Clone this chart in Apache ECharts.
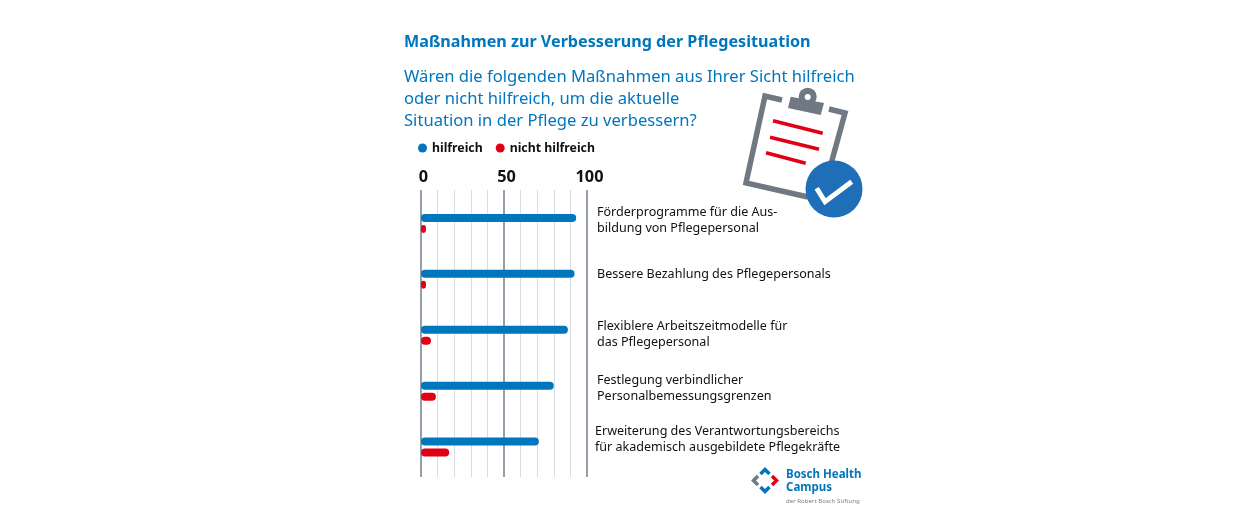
<!DOCTYPE html>
<html>
<head>
<meta charset="utf-8">
<script src="https://cdn.jsdelivr.net/npm/echarts@6/dist/echarts.min.js"></script>
<style>
  html, body { margin: 0; padding: 0; background: #fff; }
  #chart { width: 1260px; height: 528px; }
</style>
</head>
<body>
<div id="chart"></div>
<script>
const titleText = "Maßnahmen zur Verbesserung der Pflegesituation";
const questionLines = [
  "Wären die folgenden Maßnahmen aus Ihrer Sicht hilfreich",
  "oder nicht hilfreich, um die aktuelle",
  "Situation in der Pflege zu verbessern?"
];
const categories = [
  "Förderprogramme für die Aus-\nbildung von Pflegepersonal",
  "Bessere Bezahlung des Pflegepersonals",
  "Flexiblere Arbeitszeitmodelle für\ndas Pflegepersonal",
  "Festlegung verbindlicher\nPersonalbemessungsgrenzen",
  "Erweiterung des Verantwortungsbereichs\nfür akademisch ausgebildete Pflegekräfte"
];
const hilfreich = [93.5, 92.5, 88.5, 80, 71];
const nichtHilfreich = [3, 3, 6, 9, 17];
const majorTicks = [0, 50, 100];

// the labels do not sit exactly on the band centres in the original
const labelLift = [3, 4.5, 1, 2.5, 7.5];
const labelIndent = [2, 2, 2, 2, 0];
const LABEL_LINE = 16;

const BLUE = "#0076bd";
const RED = "#e20015";
const GREY = "#6f7883";
const FONT = "Noto Sans";

const chart = echarts.init(document.getElementById("chart"), null, { renderer: "canvas" });

function textItem(x, y, text, size, weight, color) {
  return {
    type: "text", x: x, y: y,
    style: { text: text, fontFamily: FONT, fontSize: size, fontWeight: weight, fill: color, textVerticalAlign: "middle" }
  };
}

function stroke(points, width, color) {
  return {
    type: "polyline",
    shape: { points: points },
    style: { stroke: color, lineWidth: width, fill: null, lineCap: "butt", lineJoin: "miter" }
  };
}

// clipboard icon and logo are decoration, not data
const clipboard = [
  stroke([[782, 100], [765, 96], [746, 183], [808, 197]], 5.5, GREY),
  stroke([[829, 109], [845, 113], [828, 175]], 5.5, GREY),
  { type: "polygon", shape: { points: [[790.7, 96.7], [788, 108], [820.7, 115], [824, 103]] }, style: { fill: GREY } },
  { type: "circle", shape: { cx: 807.7, cy: 96.7, r: 9 }, style: { fill: GREY } },
  { type: "circle", shape: { cx: 807.7, cy: 97, r: 3 }, style: { fill: "#fff" } },
  stroke([[773, 120.7], [822.7, 133.3]], 3.5, RED),
  stroke([[770, 137.3], [819, 149.3]], 3.5, RED),
  stroke([[766, 152.7], [805.7, 163.3]], 3.5, RED),
  { type: "circle", shape: { cx: 834, cy: 189, r: 28.5 }, style: { fill: "#1f6fb8" } },
  stroke([[816.7, 188.3], [825, 201.7], [851.7, 181.7]], 5, "#fff")
];

const logo = [
  stroke([[760.5, 474], [765, 469.5], [769.5, 474]], 3.5, BLUE),
  stroke([[760.5, 487], [765, 491.5], [769.5, 487]], 3.5, BLUE),
  stroke([[758, 476], [753.5, 480.5], [758, 485]], 3.5, GREY),
  stroke([[772, 476], [776.5, 480.5], [772, 485]], 3.5, RED),
  textItem(786, 474.5, "Bosch Health", 11.5, "bold", BLUE),
  textItem(786, 487.5, "Campus", 11.5, "bold", BLUE),
  textItem(786, 501.5, "der Robert Bosch Stiftung", 6.1, "normal", "#777f88")
];

const headerText = [textItem(404, 42, titleText, 16.15, "bold", BLUE)]
  .concat(questionLines.map((line, i) => textItem(404, 77 + i * 22, line, 16.6, "normal", BLUE)));

const option = {
  backgroundColor: "#fff",
  animation: false,
  textStyle: { fontFamily: FONT },
  legend: {
    left: 413, top: 137, icon: "circle", itemWidth: 9, itemHeight: 9, itemGap: 13,
    selectedMode: false,
    textStyle: { fontFamily: FONT, fontSize: 12.3, fontWeight: "bold", color: "#111" },
    data: ["hilfreich", "nicht hilfreich"]
  },
  // first grid only carries the tick lines, they run longer than the bars
  grid: [
    { left: 421, width: 166, top: 190, height: 287 },
    { left: 421, width: 166, top: 195.5, height: 279.5 }
  ],
  xAxis: [
    {
      gridIndex: 0, type: "value", position: "bottom", min: 0, max: 100, interval: 10,
      axisLine: { show: false }, axisTick: { show: false }, axisLabel: { show: false },
      splitLine: { show: true, lineStyle: { color: "#d9dde1", width: 1 } }
    },
    {
      gridIndex: 0, type: "value", position: "top", min: 0, max: 100, interval: 50,
      axisLine: { show: false }, axisTick: { show: false },
      axisLabel: {
        show: true, margin: 5, padding: [0, 0, 0, 5], fontFamily: FONT, fontSize: 16.3, fontWeight: "bold", color: "#111",
        formatter: v => majorTicks.includes(v) ? String(v) : ""
      },
      splitLine: { show: true, lineStyle: { color: "#959fa9", width: 2 } }
    },
    { gridIndex: 1, type: "value", min: 0, max: 100, show: false }
  ],
  yAxis: [
    { gridIndex: 0, type: "value", min: 0, max: 1, show: false },
    {
      gridIndex: 1, type: "category", inverse: true, position: "right",
      data: categories.map((name, i) => ({
        value: name,
        // bottom aligned because zrender ignores vertical padding on middle aligned text
        textStyle: {
          verticalAlign: "bottom",
          padding: [0, 0, labelLift[i] - name.split("\n").length * LABEL_LINE / 2, labelIndent[i]]
        }
      })),
      axisLine: { show: false }, axisTick: { show: false },
      axisLabel: { margin: 8, align: "left", verticalAlign: "bottom", fontFamily: FONT, fontSize: 12.55, lineHeight: LABEL_LINE, color: "#111" }
    }
  ],
  series: [
    {
      name: "hilfreich", type: "bar", xAxisIndex: 2, yAxisIndex: 1, data: hilfreich,
      barWidth: 8, barGap: "37.5%", itemStyle: { color: BLUE, borderRadius: 4 }
    },
    {
      name: "nicht hilfreich", type: "bar", xAxisIndex: 2, yAxisIndex: 1, data: nichtHilfreich,
      barWidth: 8, itemStyle: { color: RED, borderRadius: 4 }
    }
  ],
  graphic: { elements: headerText.concat(clipboard, logo) }
};

chart.setOption(option);
</script>
</body>
</html>
